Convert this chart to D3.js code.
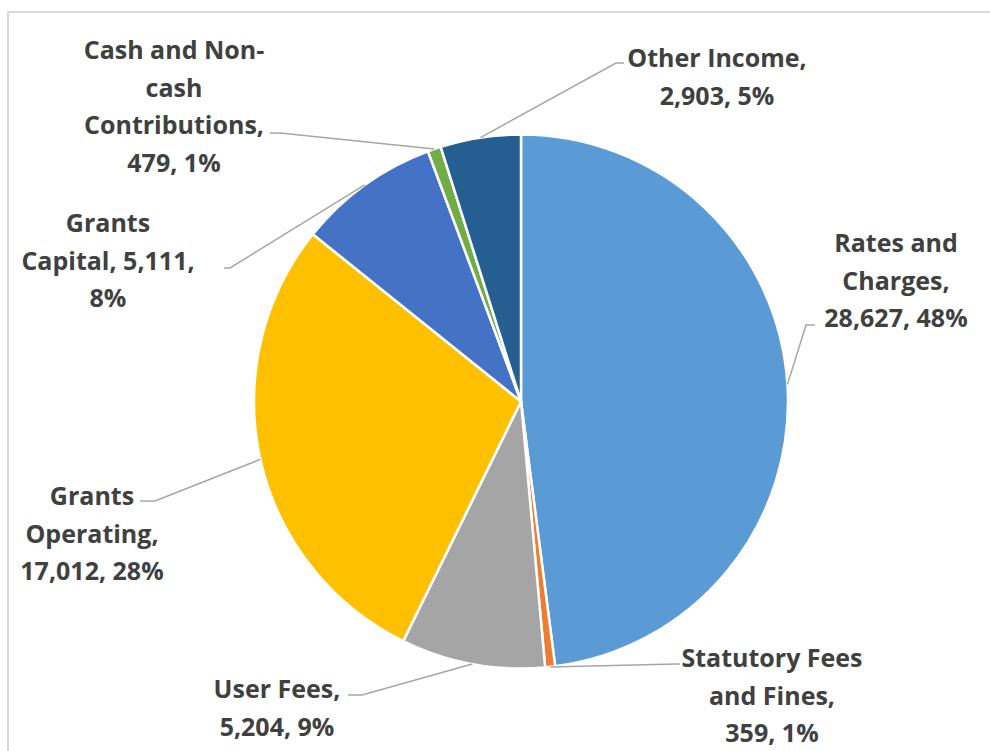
<!DOCTYPE html>
<html>
<head>
<meta charset="utf-8">
<script src="https://cdn.jsdelivr.net/npm/d3@7"></script>
<style>
  html, body { margin: 0; padding: 0; background: #fff; }
  svg { display: block; }
</style>
</head>
<body>
<div id="chart"></div>
<script>
// data
const categories = ["Rates and Charges", "Statutory Fees and Fines", "User Fees", "Grants Operating", "Grants Capital", "Cash and Non-cash Contributions", "Other Income"];
const values = [28627, 359, 5204, 17012, 5111, 479, 2903];
const colors = ["#5B9BD5", "#ED7D31", "#A5A5A5", "#FFC000", "#4472C4", "#70AD47", "#255E91"];

// label text lines as shown in the chart
const labelLines = [
  ["Rates and", "Charges,", "28,627, 48%"],
  ["Statutory Fees", "and Fines,", "359, 1%"],
  ["User Fees,", "5,204, 9%"],
  ["Grants", "Operating,", "17,012, 28%"],
  ["Grants", "Capital, 5,111,", "8%"],
  ["Cash and Non-", "cash", "Contributions,", "479, 1%"],
  ["Other Income,", "2,903, 5%"]
];

// label layout: text centre x, first baseline y, elbow point, leader end
const labelLayout = [
  { x: 896, y: 252, elbow: [806, 325], end: [815, 325] },
  { x: 772, y: 667, elbow: [676, 664], end: [680, 664] },
  { x: 277, y: 698, elbow: [362, 695], end: [348, 695] },
  { x: 92, y: 505, elbow: [155, 501], end: [140, 501] },
  { x: 108, y: 232, elbow: [230, 268], end: [224, 268] },
  { x: 174, y: 59, elbow: [280, 133], end: [270, 133] },
  { x: 717, y: 67, elbow: [616, 63], end: [624, 63] }
];

const width = 990, height = 751;
const cx = 521, cy = 401.5, radius = 267;

const svg = d3.select("#chart")
  .append("svg")
  .attr("width", width)
  .attr("height", height);

// chart frame
svg.append("rect")
  .attr("x", 8)
  .attr("y", 12)
  .attr("width", 1000)
  .attr("height", 800)
  .attr("fill", "none")
  .attr("stroke", "#D9D9D9")
  .attr("stroke-width", 2);

const pie = d3.pie().sort(null).value(d => d);
const arcs = pie(values);
const arc = d3.arc().innerRadius(0).outerRadius(radius);

const g = svg.append("g").attr("transform", `translate(${cx},${cy})`);

g.selectAll("path")
  .data(arcs)
  .join("path")
  .attr("d", arc)
  .attr("fill", (d, i) => colors[i])
  .attr("stroke", "#fff")
  .attr("stroke-width", 2.5)
  .attr("stroke-linejoin", "round");

// leader lines
const edge = d3.arc().innerRadius(radius).outerRadius(radius);
svg.append("g")
  .selectAll("polyline")
  .data(arcs)
  .join("polyline")
  .attr("points", (d, i) => {
    const [px, py] = edge.centroid(d);
    const L = labelLayout[i];
    return [[cx + px, cy + py], L.elbow, L.end].map(p => p.join(",")).join(" ");
  })
  .attr("fill", "none")
  .attr("stroke", "#A6A6A6")
  .attr("stroke-width", 1.5);

// labels
const labels = svg.append("g")
  .attr("font-family", "'Open Sans', 'Noto Sans', sans-serif")
  .attr("font-weight", "bold")
  .attr("font-size", 25)
  .attr("fill", "#404040")
  .attr("text-anchor", "middle");

labels.selectAll("text")
  .data(categories)
  .join("text")
  .attr("x", (d, i) => labelLayout[i].x)
  .attr("y", (d, i) => labelLayout[i].y)
  .each(function (d, i) {
    d3.select(this).selectAll("tspan")
      .data(labelLines[i])
      .join("tspan")
      .attr("x", labelLayout[i].x)
      .attr("dy", (t, j) => j === 0 ? 0 : 37.5)
      .text(t => t);
  });
</script>
</body>
</html>
